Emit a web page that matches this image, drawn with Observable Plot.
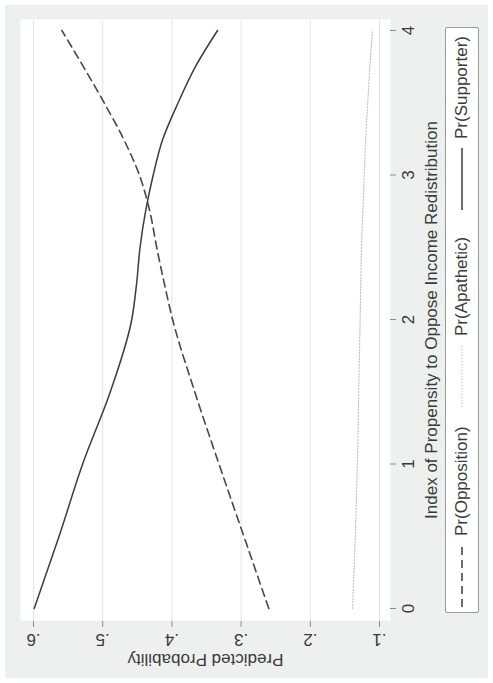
<!DOCTYPE html>
<html>
<head>
<meta charset="utf-8">
<script src="https://cdn.jsdelivr.net/npm/d3@7"></script>
<script src="https://cdn.jsdelivr.net/npm/@observablehq/plot@0.6"></script>
<style>
  html, body { margin: 0; padding: 0; background: #fff; }
  body { width: 493px; height: 683px; overflow: hidden; position: relative; }
  #chart {
    position: absolute; left: 0; top: 0; width: 683px; height: 493px;
    transform-origin: 0 0; transform: translate(0px, 683px) rotate(-90deg);
    font-family: "Liberation Sans", Arial, sans-serif;
  }
  #bg { position: absolute; left: 5px; top: 5px; width: 673px; height: 483px; background: #eef0ef; }
  #plot { position: absolute; left: 0; top: 0; }
  #legend {
    position: absolute; left: 70px; top: 445px; width: 584px; height: 32px;
    border: 1px solid #9a9a9a; border-radius: 2px; background: #fff;
  }
  .item { position: absolute; top: 0; height: 32px; display: flex; align-items: center; white-space: nowrap; }
  .item span { margin-left: 9px; font-size: 17px; color: #3a3a3a; }
  .item svg { display: block; }
</style>
</head>
<body>
<div id="chart">
  <div id="bg"></div>
  <div id="plot"></div>
  <div id="legend"></div>
</div>
<script>
// ---- data ----
const index        = [0,     0.5,   1,     1.5,   2,     2.25,  2.5,   2.75,  3,     3.25,  3.5,   3.75,  4];
const prSupporter  = [0.599, 0.563, 0.529, 0.489, 0.458, 0.451, 0.446, 0.438, 0.427, 0.413, 0.391, 0.366, 0.334];
const prOpposition = [0.260, 0.296, 0.332, 0.367, 0.399, 0.411, 0.422, 0.432, 0.447, 0.470, 0.498, 0.528, 0.559];
const prApathetic  = [0.139, 0.135, 0.132, 0.130, 0.128, 0.127, 0.126, 0.124, 0.122, 0.120, 0.117, 0.114, 0.110];

const yTicks      = [0.1, 0.2, 0.3, 0.4, 0.5, 0.6];
const yTickLabels = [".1", ".2", ".3", ".4", ".5", ".6"];
const xTicks      = [0, 1, 2, 3, 4];
const xTickLabels = ["0", "1", "2", "3", "4"];
const xTitle = "Index of Propensity to Oppose Income Redistribution";
const yTitle = "Predicted Probability";
const seriesNames = ["Pr(Opposition)", "Pr(Apathetic)", "Pr(Supporter)"];

const supporter  = index.map((x, i) => ({x, y: prSupporter[i]}));
const opposition = index.map((x, i) => ({x, y: prOpposition[i]}));
const apathetic  = index.map((x, i) => ({x, y: prApathetic[i]}));

const styles = {
  "Pr(Opposition)": {stroke: "#474747", strokeWidth: 1.6, strokeDasharray: "8,5"},
  "Pr(Apathetic)":  {stroke: "#c4c4c4", strokeWidth: 1.2, strokeDasharray: "1.2,1.8"},
  "Pr(Supporter)":  {stroke: "#3c3c3c", strokeWidth: 1.5, strokeDasharray: null}
};

const chart = Plot.plot({
  width: 683,
  height: 493,
  marginLeft: 62,
  marginRight: 20,
  marginTop: 20,
  marginBottom: 103,
  style: {background: "transparent", fontFamily: "'Liberation Sans', Arial, sans-serif", fontSize: "17px", color: "#3a3a3a", overflow: "visible"},
  x: {domain: [-0.083, 4.076]},
  y: {domain: [0.0841, 0.6188]},
  marks: [
    Plot.frame({fill: "white", stroke: null}),
    Plot.gridY(yTicks, {stroke: "#e2e4e4", strokeOpacity: 1, strokeWidth: 1}),
    Plot.line(apathetic,  {x: "x", y: "y", curve: "monotone-x", ...styles["Pr(Apathetic)"]}),
    Plot.line(opposition, {x: "x", y: "y", curve: "monotone-x", ...styles["Pr(Opposition)"]}),
    Plot.line(supporter,  {x: "x", y: "y", curve: "monotone-x", ...styles["Pr(Supporter)"]}),
    Plot.axisY(yTicks, {
      tickFormat: d => yTickLabels[yTicks.indexOf(d)],
      tickRotate: -90, tickSize: 6, tickPadding: 7,
      stroke: "#8a8a8a", line: true, fontSize: 17,
      label: yTitle, labelAnchor: "center", labelOffset: 46, labelArrow: "none"
    }),
    Plot.axisX(xTicks, {
      tickFormat: d => xTickLabels[xTicks.indexOf(d)],
      tickSize: 6, tickPadding: 5,
      stroke: "#8a8a8a", line: true, fontSize: 17,
      label: xTitle, labelAnchor: "center", labelOffset: 46, labelArrow: "none"
    })
  ]
});
document.getElementById("plot").appendChild(chart);

// ---- legend (one row, as in the original orientation) ----
const legend = document.getElementById("legend");
const itemLeft = [5, 205, 402];
seriesNames.forEach((name, i) => {
  const s = styles[name];
  const item = document.createElement("div");
  item.className = "item";
  item.style.left = itemLeft[i] + "px";
  const svg = d3.create("svg").attr("width", 62).attr("height", 10);
  svg.append("line").attr("x1", 0).attr("x2", 62).attr("y1", 5).attr("y2", 5)
    .attr("stroke", s.stroke).attr("stroke-width", s.strokeWidth)
    .attr("stroke-dasharray", s.strokeDasharray);
  item.appendChild(svg.node());
  const label = document.createElement("span");
  label.textContent = name;
  item.appendChild(label);
  legend.appendChild(item);
});
</script>
</body>
</html>
